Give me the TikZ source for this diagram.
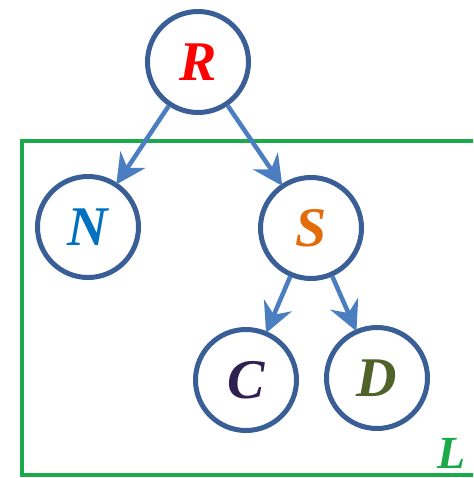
\documentclass[tikz,border=0pt]{standalone}
\usepackage{fontspec}
\setmainfont{Liberation Serif}
\usetikzlibrary{arrows.meta}
\definecolor{ringblue}{RGB}{58,94,150}
\definecolor{arrowblue}{RGB}{74,126,192}
\definecolor{boxgreen}{RGB}{26,170,74}
\definecolor{lblN}{RGB}{0,112,192}
\definecolor{lblS}{RGB}{227,108,10}
\definecolor{lblC}{RGB}{46,32,80}
\definecolor{lblD}{RGB}{79,98,40}
\tikzset{
  vertex/.style={circle, draw=ringblue, line width=5pt, minimum size=101pt, inner sep=0pt, fill=white,
    font=\fontsize{56}{56}\selectfont\bfseries\itshape},
  edgearrow/.style={draw=arrowblue, line width=4.5pt, -{Stealth[length=30pt,width=30pt,inset=10pt]}, shorten >=-2pt},
  frame/.style={draw=boxgreen, line width=4pt}
}
\begin{document}
\begin{tikzpicture}[x=1pt,y=-1pt]
\useasboundingbox (0,0) rectangle (473,478);
\begin{scope}
\clip (0,0) rectangle (473,478);
\draw[frame] (22,141) rectangle (500,475);
\end{scope}
\node[vertex, text=red] (R) at (198,62) {R};
\node[vertex, text=lblN] (N) at (88,227) {N};
\node[vertex, text=lblS] (S) at (311,228) {S};
\node[vertex, text=lblC] (C) at (246,380) {C};
\node[vertex, text=lblD] (D) at (377,378) {D};
\draw[edgearrow] (R) -- (N);
\draw[edgearrow] (R) -- (S);
\draw[edgearrow] (S) -- (C);
\draw[edgearrow] (S) -- (D);
\node[text=boxgreen, font=\fontsize{46}{46}\selectfont\bfseries\itshape] (L) at (452,453) {L};
\end{tikzpicture}
\end{document}
